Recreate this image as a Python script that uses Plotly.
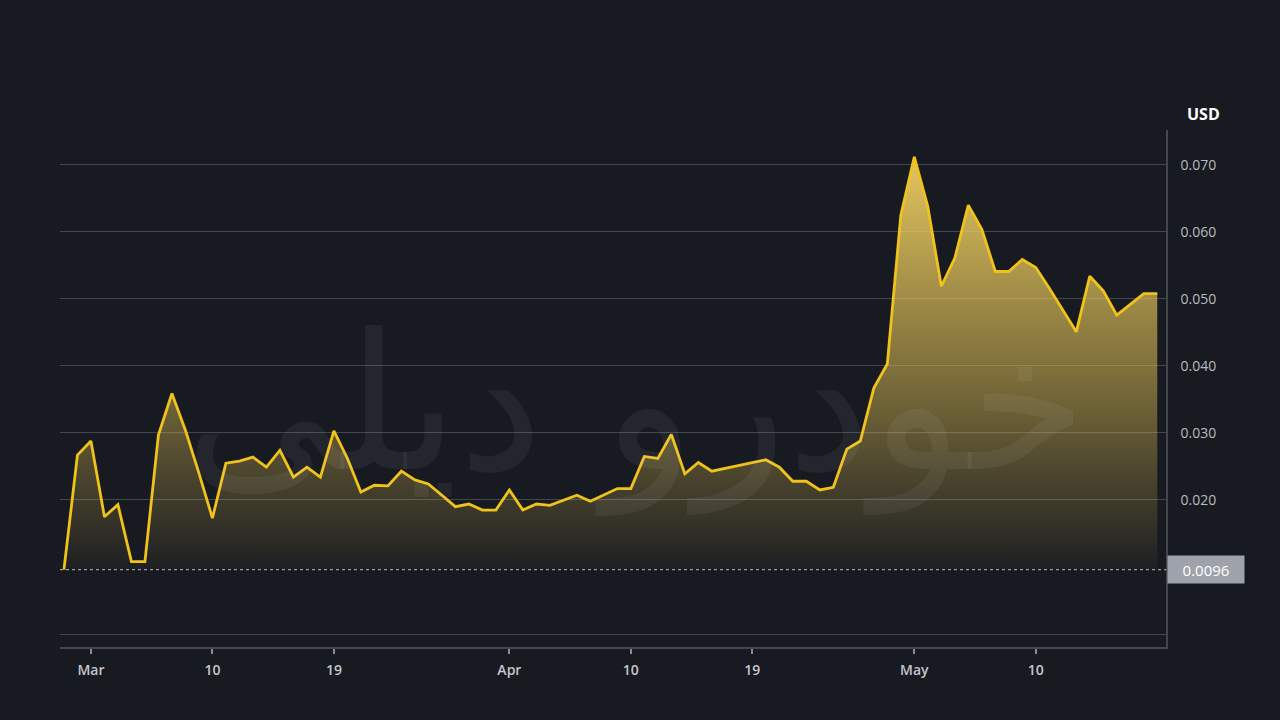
import pandas as pd
import plotly.graph_objects as go

# ---- data ----
start_date = "2024-02-28"
prices = [
    0.0096, 0.0267, 0.0288, 0.0175, 0.0193, 0.0108, 0.0108, 0.0297, 0.0359, 0.0304,
    0.0240, 0.0173, 0.0255, 0.0258, 0.0264, 0.0249, 0.0274, 0.0234, 0.0249, 0.0234,
    0.0303, 0.0262, 0.0212, 0.0222, 0.0221, 0.0243, 0.0230, 0.0224, 0.0207, 0.0190,
    0.0194, 0.0185, 0.0185, 0.0215, 0.0185, 0.0194, 0.0192, 0.0200, 0.0207, 0.0198,
    0.0207, 0.0217, 0.0217, 0.0265, 0.0262, 0.0298, 0.0239, 0.0256, 0.0243, 0.0247,
    0.0252, 0.0256, 0.0260, 0.0249, 0.0228, 0.0228, 0.0215, 0.0219, 0.0276, 0.0288,
    0.0367, 0.0403, 0.0625, 0.0712, 0.0638, 0.0519, 0.0561, 0.0640, 0.0604, 0.0541,
    0.0541, 0.0559, 0.0547, 0.0516, 0.0484, 0.0451, 0.0534, 0.0512, 0.0476, 0.0492,
    0.0508, 0.0508,
]
dates = pd.date_range(start_date, periods=len(prices), freq="D")
base_price = 0.0096
base_label = "0.0096"

x_tick_dates = ["2024-03-01", "2024-03-10", "2024-03-19", "2024-04-01",
                "2024-04-10", "2024-04-19", "2024-05-01", "2024-05-10"]
x_tick_labels = ["Mar", "10", "19", "Apr", "10", "19", "May", "10"]
y_tick_vals = [0.0, 0.02, 0.03, 0.04, 0.05, 0.06, 0.07]
y_tick_labels = ["", "0.020", "0.030", "0.040", "0.050", "0.060", "0.070"]

BG = "#171a21"
GRID = "#43464d"
LINE = "#f0c21c"

fig = go.Figure()

fig.add_trace(go.Scatter(
    x=dates, y=[base_price] * len(dates), mode="lines",
    line=dict(width=0), hoverinfo="skip", showlegend=False,
))
fig.add_trace(go.Scatter(
    x=dates, y=prices, mode="lines",
    line=dict(color=LINE, width=2.8),
    fill="tonexty",
    fillgradient=dict(
        type="vertical",
        colorscale=[[0, "rgba(230,195,80,0.03)"],
                    [0.4, "rgba(232,198,85,0.42)"],
                    [1, "rgba(240,208,100,0.95)"]],
        start=base_price, stop=0.0715,
    ),
    showlegend=False,
))

# dotted baseline
fig.add_shape(type="line", xref="paper", yref="y", x0=0, x1=1,
              y0=base_price, y1=base_price,
              line=dict(color="#9a9da3", width=1.2, dash="dot"))

# watermark
fig.add_annotation(text="خودرو دیلی", xref="paper", yref="paper",
                   x=0.52, y=0.47, showarrow=False,
                   font=dict(size=190, color="rgba(255,255,255,0.055)",
                             family="DejaVu Sans"))

# price label box
fig.add_annotation(text=base_label, xref="paper", yref="y", x=1.0, y=base_price,
                   xanchor="left", yanchor="middle", showarrow=False,
                   bgcolor="#9ea2aa", width=76, height=27, align="center",
                   borderpad=0, xshift=1,
                   font=dict(size=15, color="#ffffff", family="Open Sans"))

# USD label
fig.add_annotation(text="<b>USD</b>", xref="paper", yref="paper",
                   x=1.0, y=1.0, xanchor="left", yanchor="bottom",
                   xshift=19, yshift=3, showarrow=False,
                   font=dict(size=16, color="#ffffff", family="Open Sans"))

fig.update_layout(
    width=1280, height=720,
    paper_bgcolor=BG, plot_bgcolor=BG,
    margin=dict(l=60, r=114, t=130, b=73),
    showlegend=False,
    xaxis=dict(
        range=["2024-02-27 17:00", "2024-05-19 15:30"],
        tickvals=x_tick_dates, ticktext=x_tick_labels,
        showgrid=False, zeroline=False,
        showline=True, linecolor=GRID, linewidth=1.5,
        ticks="outside", ticklen=5, tickcolor="#8a8d93", tickwidth=1.5,
        ticklabelstandoff=4,
        tickfont=dict(size=14, color="#c4c6ca", family="Open Sans", weight=600),
    ),
    yaxis=dict(
        side="right", range=[-0.00194, 0.07522],
        tickvals=y_tick_vals, ticktext=y_tick_labels,
        showgrid=True, gridcolor=GRID, gridwidth=1.2,
        zeroline=False,
        showline=True, linecolor=GRID, linewidth=1.5,
        ticks="", ticklabelstandoff=10,
        tickfont=dict(size=14, color="#b9bbbf", family="Open Sans"),
    ),
)

fig.write_html("out.html",
               config={"displayModeBar": False},
               post_script="document.body.style.margin='0';"
                           "document.body.style.background='#171a21';")
